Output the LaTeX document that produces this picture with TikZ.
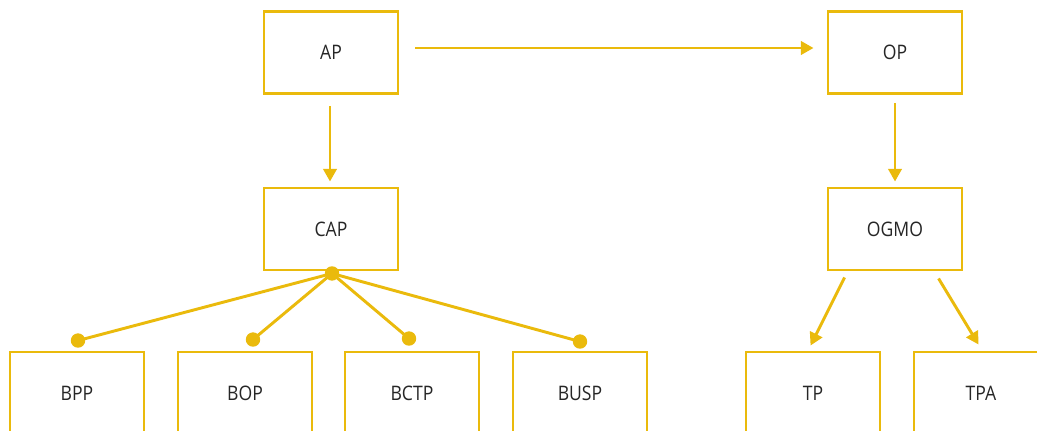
\documentclass[tikz,border=0pt]{standalone}
\usepackage{fontspec}
\setmainfont[FakeStretch=0.88]{Open Sans}
\usetikzlibrary{arrows.meta,calc}
\definecolor{gold}{RGB}{234,186,12}
\begin{document}
\begin{tikzpicture}[x=0.75pt,y=-0.75pt,
  box/.style={draw=gold,line width=2.2pt,fill=white,minimum width=100.5pt,minimum height=61.5pt,inner sep=0pt,font=\fontsize{15}{17}\selectfont,text=black!85},
  conn/.style={draw=gold,line width=2.2pt},
  arr/.style={conn,-{Triangle[length=9.5pt,width=10pt]}},
  dotc/.style={fill=gold}]
\useasboundingbox (0,0) rectangle (1037,430);
\node[box] (AP) at (331,52.5) {AP};
\node[box] (OP) at (895,52.5) {OP};
\node[box] (CAP) at (331,229) {CAP};
\node[box] (OGMO) at (895,229) {OGMO};
\node[box] (BPP) at (77,393) {BPP};
\node[box] (BOP) at (245,393) {BOP};
\node[box] (BCTP) at (412,393) {BCTP};
\node[box] (BUSP) at (580,393) {BUSP};
\node[box] (TP) at (813,393) {TP};
\node[box] (TPA) at (981,393) {TPA};
% arrows
\draw[arr] ($(AP.east)+(16,-4.5)$) -- ($(OP.west)+(-13,-4.5)$);
\draw[arr] ($(AP.south)+(-1,11)$) -- ($(CAP.north)+(-1,-5)$);
\draw[arr] ($(OP.south)+(0,8)$) -- ($(OGMO.north)+(0,-5)$);
\draw[arr] ($(OGMO.south west)+(18,6)$) -- ($(TP.north west)+(66,-5)$);
\draw[arr] ($(OGMO.south west)+(112,7)$) -- ($(TPA.north west)+(66,-6)$);
% hub and dots
\coordinate (hub) at ($(CAP.south)+(1,2)$);
\coordinate (d1) at ($(BPP.north)+(1,-10)$);
\coordinate (d2) at ($(BOP.north)+(8,-11)$);
\coordinate (d3) at ($(BCTP.north)+(-3,-12)$);
\coordinate (d4) at ($(BUSP.north)+(0,-9)$);
\foreach \d in {d1,d2,d3,d4} {
  \draw[conn] (hub) -- (\d);
  \fill[dotc] (\d) circle (5.4pt);
}
\fill[dotc] (hub) circle (5.4pt);
\end{tikzpicture}
\end{document}
